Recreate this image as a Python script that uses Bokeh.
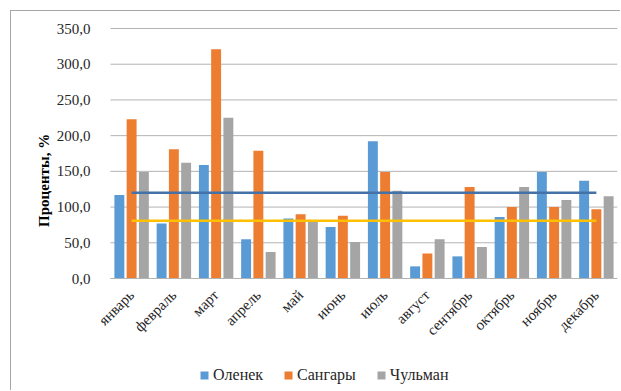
import math
from bokeh.plotting import figure
from bokeh.models import (Range1d, ColumnDataSource, Legend, LegendItem,
                          FixedTicker, Label)
from bokeh.transform import dodge
from bokeh.embed import file_html
from bokeh.resources import INLINE

months = ["январь", "февраль", "март", "апрель", "май", "июнь", "июль",
          "август", "сентябрь", "октябрь", "ноябрь", "декабрь"]
olenek = [117, 77, 159, 55, 84, 72, 192, 17, 31, 86, 149, 137]
sangary = [223, 181, 321, 179, 90, 88, 149, 35, 128, 100, 100, 97]
chulman = [149, 162, 225, 37, 80, 51, 123, 55, 44, 128, 110, 115]
level_blue = 120
level_yellow = 81
y_ticks = [0, 50, 100, 150, 200, 250, 300, 350]
y_tick_labels = ["0,0", "50,0", "100,0", "150,0", "200,0", "250,0", "300,0", "350,0"]
series_names = ["Оленек", "Сангары", "Чульман"]
y_title = "Проценты,  %"

n = len(months)
pos = [i + 0.5 for i in range(n)]          # category centres on the x scale

src = ColumnDataSource(dict(pos=pos, month=months, olenek=olenek,
                            sangary=sangary, chulman=chulman,
                            lb=[level_blue] * n, ly=[level_yellow] * n))
grid_src = ColumnDataSource(dict(y=y_ticks, x0=[0] * len(y_ticks),
                                 x1=[n] * len(y_ticks)))

FONT = "Times"

# the frame fills the whole canvas so that axes, title and legend are drawn
# inside it; the category area runs from 0 to n on the x scale
p = figure(width=610, height=380,
           x_range=Range1d(-2.343, n), y_range=Range1d(-158.2, 373.8),
           output_backend="svg", toolbar_location=None,
           min_border_left=0, min_border_right=4, min_border_top=0,
           min_border_bottom=0)
p.styles = {"margin-left": "10px", "margin-top": "10px",
            "border-left": "1px solid #A6A6A6", "border-top": "1px solid #A6A6A6"}
p.outline_line_color = None
p.background_fill_color = "white"
p.border_fill_color = "white"
p.xgrid.visible = False
p.ygrid.visible = False

# horizontal grid lines over the category area only
p.segment(x0="x0", x1="x1", y0="y", y1="y", source=grid_src,
          line_color="#B3B3B3", line_width=1)

bw = 0.235
r1 = p.vbar(x=dodge("pos", -0.29), top="olenek", width=bw,
            source=src, fill_color="#5B9BD5", line_color=None)
r2 = p.vbar(x=dodge("pos", 0.0), top="sangary", width=bw,
            source=src, fill_color="#ED7D31", line_color=None)
r3 = p.vbar(x=dodge("pos", 0.29), top="chulman", width=bw,
            source=src, fill_color="#A5A5A5", line_color=None)

p.line(x="pos", y="lb", source=src, line_color="#4472A8", line_width=2.5)
p.line(x="pos", y="ly", source=src, line_color="#FFC000", line_width=2.5)

p.yaxis.fixed_location = 0
p.yaxis.ticker = FixedTicker(ticks=y_ticks)
p.yaxis.major_label_overrides = {t: s for t, s in zip(y_ticks, y_tick_labels)}
p.yaxis.axis_line_color = None
p.yaxis.major_tick_line_color = None
p.yaxis.minor_tick_line_color = None
p.yaxis.major_label_text_font = FONT
p.yaxis.major_label_text_font_size = "15px"
p.yaxis.major_label_text_color = "#262626"
p.yaxis.major_label_standoff = 14

p.add_layout(Label(text=y_title, x=32, y=213, x_units="screen", y_units="screen",
                   angle=math.pi / 2, text_align="center", text_baseline="middle",
                   text_font=FONT, text_font_style="bold", text_font_size="15px",
                   text_color="#000000"))

p.xaxis.fixed_location = 0
p.xaxis.bounds = (0, n)
p.xaxis.ticker = FixedTicker(ticks=pos)
p.xaxis.major_label_overrides = {x: m for x, m in zip(pos, months)}
p.xaxis.axis_line_color = "#B3B3B3"
p.xaxis.major_tick_line_color = None
p.xaxis.minor_tick_line_color = None
p.xaxis.major_label_orientation = math.pi / 4
p.xaxis.major_label_text_font = FONT
p.xaxis.major_label_text_font_size = "15px"
p.xaxis.major_label_text_color = "#262626"
p.xaxis.major_label_standoff = 8

legend = Legend(items=[LegendItem(label=series_names[0], renderers=[r1]),
                       LegendItem(label=series_names[1], renderers=[r2]),
                       LegendItem(label=series_names[2], renderers=[r3])],
                orientation="horizontal", location=(188, 7))
legend.label_text_font = "Liberation Serif"
legend.label_text_font_size = "16px"
legend.label_text_color = "#262626"
legend.glyph_width = 10
legend.glyph_height = 10
legend.label_standoff = 4
legend.spacing = 20
legend.padding = 0
legend.margin = 0
legend.border_line_color = None
legend.background_fill_alpha = 0
p.add_layout(legend, "center")

open("out.html", "w").write(file_html(p, INLINE))
